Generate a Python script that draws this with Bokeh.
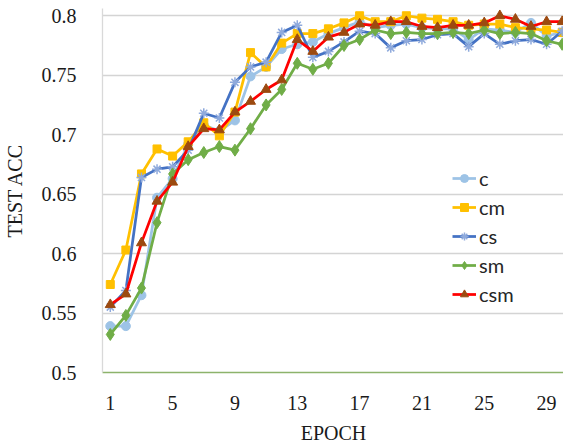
from bokeh.plotting import figure
from bokeh.models import Range1d, FixedTicker, Legend, LegendItem
from bokeh.embed import file_html
from bokeh.resources import INLINE

epochs = list(range(1, 31))
x_tick_labels = [1, 5, 9, 13, 17, 21, 25, 29]
y_ticks = [0.5, 0.55, 0.6, 0.65, 0.7, 0.75, 0.8]

c = [0.539, 0.539, 0.565, 0.647, 0.663, 0.692, 0.708, 0.703, 0.712, 0.749,
     0.757, 0.772, 0.776, 0.778, 0.785, 0.790, 0.795, 0.790, 0.792, 0.793,
     0.790, 0.789, 0.789, 0.780, 0.789, 0.788, 0.786, 0.794, 0.783, 0.786]
cm = [0.574, 0.603, 0.667, 0.688, 0.682, 0.694, 0.710, 0.699, 0.719, 0.769,
      0.757, 0.777, 0.785, 0.785, 0.789, 0.794, 0.800, 0.795, 0.795, 0.800,
      0.798, 0.797, 0.795, 0.792, 0.793, 0.793, 0.790, 0.789, 0.788, 0.786]
cs = [0.555, 0.569, 0.664, 0.671, 0.673, 0.687, 0.718, 0.714, 0.744, 0.757,
      0.761, 0.786, 0.792, 0.765, 0.770, 0.778, 0.787, 0.785, 0.773, 0.779,
      0.780, 0.784, 0.785, 0.774, 0.785, 0.776, 0.779, 0.780, 0.776, 0.787]
sm = [0.532, 0.548, 0.571, 0.626, 0.667, 0.679, 0.685, 0.690, 0.687, 0.705,
      0.725, 0.738, 0.760, 0.755, 0.760, 0.775, 0.780, 0.788, 0.785, 0.786,
      0.785, 0.785, 0.786, 0.785, 0.788, 0.785, 0.786, 0.785, 0.779, 0.776]
csm = [0.557, 0.566, 0.609, 0.644, 0.660, 0.690, 0.705, 0.704, 0.719, 0.728,
       0.738, 0.746, 0.780, 0.770, 0.782, 0.786, 0.793, 0.792, 0.795, 0.795,
       0.791, 0.790, 0.792, 0.792, 0.794, 0.800, 0.797, 0.791, 0.795, 0.795]

series = [
    ("c", c, "#9DC3E6", "circle", "#9DC3E6", 9),
    ("cm", cm, "#FFC000", "square", "#FFC000", 8),
    ("cs", cs, "#4472C4", "asterisk", "#8FAADC", 10),
    ("sm", sm, "#70AD47", "diamond", "#70AD47", 12),
    ("csm", csm, "#FF0000", "triangle", "#9C4A10", 10),
]

p = figure(frame_width=462, frame_height=364, output_backend="svg",
           toolbar_location=None,
           x_range=Range1d(0.5, 30.15), y_range=Range1d(0.5, 0.8061),
           min_border_left=101, min_border_right=0, min_border_top=8,
           min_border_bottom=60)
p.outline_line_color = None
p.background_fill_color = "white"
p.border_fill_color = "white"

items = []
for name, vals, lc, marker, mc, size in series:
    ln = p.line(epochs, vals, line_color=lc, line_width=2.75)
    if marker == "asterisk":
        sc = p.scatter(epochs, vals, marker=marker, size=size, line_color=mc,
                       line_width=1.5)
    else:
        sc = p.scatter(epochs, vals, marker=marker, size=size, fill_color=mc,
                       line_color=mc)
    items.append(LegendItem(label=name, renderers=[ln, sc]))

legend = Legend(items=items, location=(350, 66), border_line_color=None,
                background_fill_alpha=0, label_text_font="Lato",
                label_text_font_size="20px", label_text_color="#262626",
                glyph_width=24, glyph_height=20, label_height=20,
                label_standoff=3, padding=0, margin=0, spacing=5)
p.add_layout(legend)

# x axis
p.xaxis.ticker = FixedTicker(ticks=x_tick_labels)
p.xaxis.axis_label = "EPOCH"
p.xaxis.axis_line_color = "#8DB36B"
p.xaxis.axis_line_width = 1.5
p.xaxis.major_tick_line_color = None
p.xaxis.minor_tick_line_color = None
p.xaxis.major_label_standoff = 17
p.xaxis.axis_label_standoff = 9

# y axis
p.yaxis.ticker = FixedTicker(ticks=y_ticks)
p.yaxis.axis_label = "TEST ACC"
p.yaxis.axis_line_color = "#d9d9d9"
p.yaxis.axis_line_width = 1.3
p.yaxis.major_tick_line_color = None
p.yaxis.minor_tick_line_color = None
p.yaxis.major_label_standoff = 20
p.yaxis.axis_label_standoff = 13

for ax in (p.xaxis, p.yaxis):
    ax.major_label_text_font = "Liberation Serif"
    ax.major_label_text_font_size = "20px"
    ax.major_label_text_color = "#1a1a1a"
    ax.axis_label_text_font = "Liberation Serif"
    ax.axis_label_text_font_size = "20px"
    ax.axis_label_text_font_style = "normal"
    ax.axis_label_text_color = "#1a1a1a"

p.xgrid.grid_line_color = None
p.ygrid.ticker = FixedTicker(ticks=y_ticks)
p.ygrid.grid_line_color = "#d4d4d4"
p.ygrid.grid_line_width = 1.3

open("out.html", "w").write(file_html(p, INLINE))
